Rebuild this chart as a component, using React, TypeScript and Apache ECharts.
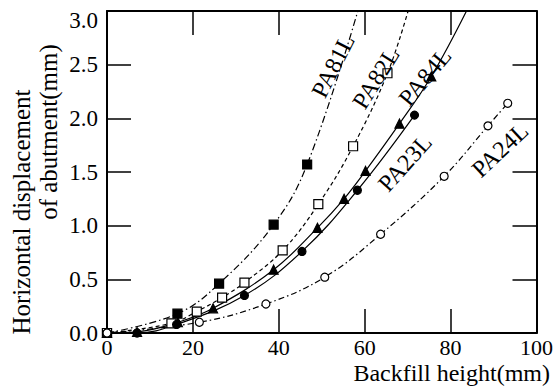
import React, { useEffect, useRef } from "react";
import * as echarts from "echarts";

// Backfill height (mm) and horizontal displacement (mm) per test
const pa81X = [0, 16.4, 26.1, 38.8, 46.6];
const pa81Y = [0, 0.18, 0.46, 1.01, 1.57];
const pa81Ext = [58.4, 3.0];

const pa82X = [0, 15, 20.9, 26.8, 32, 40.9, 49.2, 57.3, 65.3];
const pa82Y = [0, 0.09, 0.2, 0.33, 0.47, 0.77, 1.2, 1.74, 2.42];
const pa82Ext = [70.1, 3.0];

const pa84X = [0, 7, 16.5, 24.7, 38.8, 49, 55.2, 60.2, 68.1, 75.5];
const pa84Y = [0, 0.01, 0.1, 0.23, 0.59, 0.98, 1.25, 1.51, 1.95, 2.39];
const pa84Ext = [83.7, 3.0];

const pa23X = [0, 7, 16.2, 32, 45.4, 58.3, 71.6];
const pa23Y = [0, 0, 0.08, 0.35, 0.76, 1.33, 2.03];

const pa24X = [0, 21.5, 37, 50.7, 63.7, 78.5, 88.7, 93.3];
const pa24Y = [0, 0.1, 0.27, 0.52, 0.92, 1.46, 1.93, 2.14];

const xTicks = [0, 20, 40, 60, 80, 100];
const yTicks = [0, 0.5, 1.0, 1.5, 2.0, 2.5, 3.0];

const FONT = "Liberation Serif";

function pairs(xs: number[], ys: number[], ext?: number[]) {
  const d = xs.map((x, i) => [x, ys[i]]);
  if (ext) d.push(ext);
  return d;
}

export default function App() {
  const ref = useRef<HTMLDivElement>(null);
  useEffect(() => {
    if (!ref.current) return;
    const chart = echarts.init(ref.current, undefined, { renderer: "svg" });
    const axisCommon = {
      type: "value" as const,
      axisLine: { show: true, onZero: false, lineStyle: { color: "#000", width: 2 } },
      axisTick: { show: true, inside: true, length: 24, lineStyle: { color: "#000", width: 1.5 } },
      splitLine: { show: false },
    };
    const lineSeries = (name: string, data: number[][], type: any) => ({
      name: name + "-line",
      type: "line",
      data,
      smooth: 0.4,
      showSymbol: false,
      symbol: "none",
      clip: true,
      lineStyle: { color: "#000", width: 1.2, type },
      z: 2,
    });
    const markSeries = (name: string, data: number[][], symbol: string, size: number, fill: string) => ({
      name,
      type: "scatter",
      data,
      symbol,
      symbolSize: size,
      itemStyle: { color: fill, borderColor: "#000", borderWidth: 1.2, opacity: 1 },
      z: 3,
    });
    const labels = [
      { t: "PA81L", x: 333, y: 66, a: 63 },
      { t: "PA82L", x: 376, y: 78, a: 58 },
      { t: "PA84L", x: 425, y: 77, a: 50 },
      { t: "PA23L", x: 405, y: 163, a: 48 },
      { t: "PA24L", x: 500, y: 150, a: 43 },
    ];
    const textStyle = (text: string, align: string, size: number) => ({
      text,
      fill: "#000",
      fontFamily: FONT,
      fontSize: size,
      align,
      verticalAlign: "middle",
    });
    chart.setOption({
      animation: false,
      grid: { left: 107, right: 7, top: 11, bottom: 54 },
      xAxis: [
        {
          ...axisCommon,
          min: 0,
          max: 100,
          interval: 20,
          position: "bottom",
          axisLabel: {
            color: "#000",
            fontFamily: FONT,
            fontSize: 22,
            margin: 3,
            formatter: (v: number) => (xTicks.includes(v) ? String(v) : ""),
          },
        },
        {
          ...axisCommon,
          min: 0,
          max: 100,
          interval: 20,
          position: "top",
          axisLabel: { show: false },
        },
      ],
      yAxis: [
        {
          ...axisCommon,
          min: 0,
          max: 3,
          interval: 0.5,
          position: "left",
          axisLabel: {
            color: "#000",
            fontFamily: FONT,
            fontSize: 23,
            margin: 9,
            formatter: (v: number) =>
              yTicks.includes(v) ? (v === 3 ? "{top|" + v.toFixed(1) + "}" : v.toFixed(1)) : "",
            rich: {
              top: { fontFamily: FONT, fontSize: 23, color: "#000", padding: [18, 0, 0, 0] },
            },
          },
        },
        {
          ...axisCommon,
          min: 0,
          max: 3,
          interval: 0.5,
          position: "right",
          axisLabel: { show: false },
        },
      ],
      series: [
        lineSeries("PA81L", pairs(pa81X, pa81Y, pa81Ext), [7, 3, 1.5, 3]),
        lineSeries("PA82L", pairs(pa82X, pa82Y, pa82Ext), [4, 3]),
        lineSeries("PA84L", pairs(pa84X, pa84Y, pa84Ext), "solid"),
        lineSeries("PA23L", pairs(pa23X, pa23Y), "solid"),
        lineSeries("PA24L", pairs(pa24X, pa24Y), [6, 3, 1.5, 3]),
        markSeries("PA81L", pairs(pa81X, pa81Y), "rect", 9, "#000"),
        markSeries("PA82L", pairs(pa82X, pa82Y), "rect", 9, "#fff"),
        markSeries("PA84L", pairs(pa84X, pa84Y), "triangle", 9, "#000"),
        markSeries("PA23L", pairs(pa23X, pa23Y), "circle", 8, "#000"),
        markSeries("PA24L", pairs(pa24X, pa24Y), "circle", 8, "#fff"),
      ],
      graphic: [
        ...labels.map((l) => ({
          type: "text",
          x: l.x,
          y: l.y,
          rotation: (l.a * Math.PI) / 180,
          z: 10,
          style: textStyle(l.t, "center", 24),
        })),
        {
          type: "text",
          x: 550,
          y: 373,
          style: textStyle("Backfill height(mm)", "right", 24),
        },
        {
          type: "text",
          x: 21,
          y: 212,
          rotation: Math.PI / 2,
          style: textStyle("Horizontal displacement", "center", 25),
        },
        {
          type: "text",
          x: 48,
          y: 132,
          rotation: Math.PI / 2,
          style: textStyle("of abutment(mm)", "center", 25),
        },
      ],
    });
    return () => chart.dispose();
  }, []);
  return <div ref={ref} style={{ width: 556, height: 387, position: "absolute", left: 0, top: 0 }} />;
}
